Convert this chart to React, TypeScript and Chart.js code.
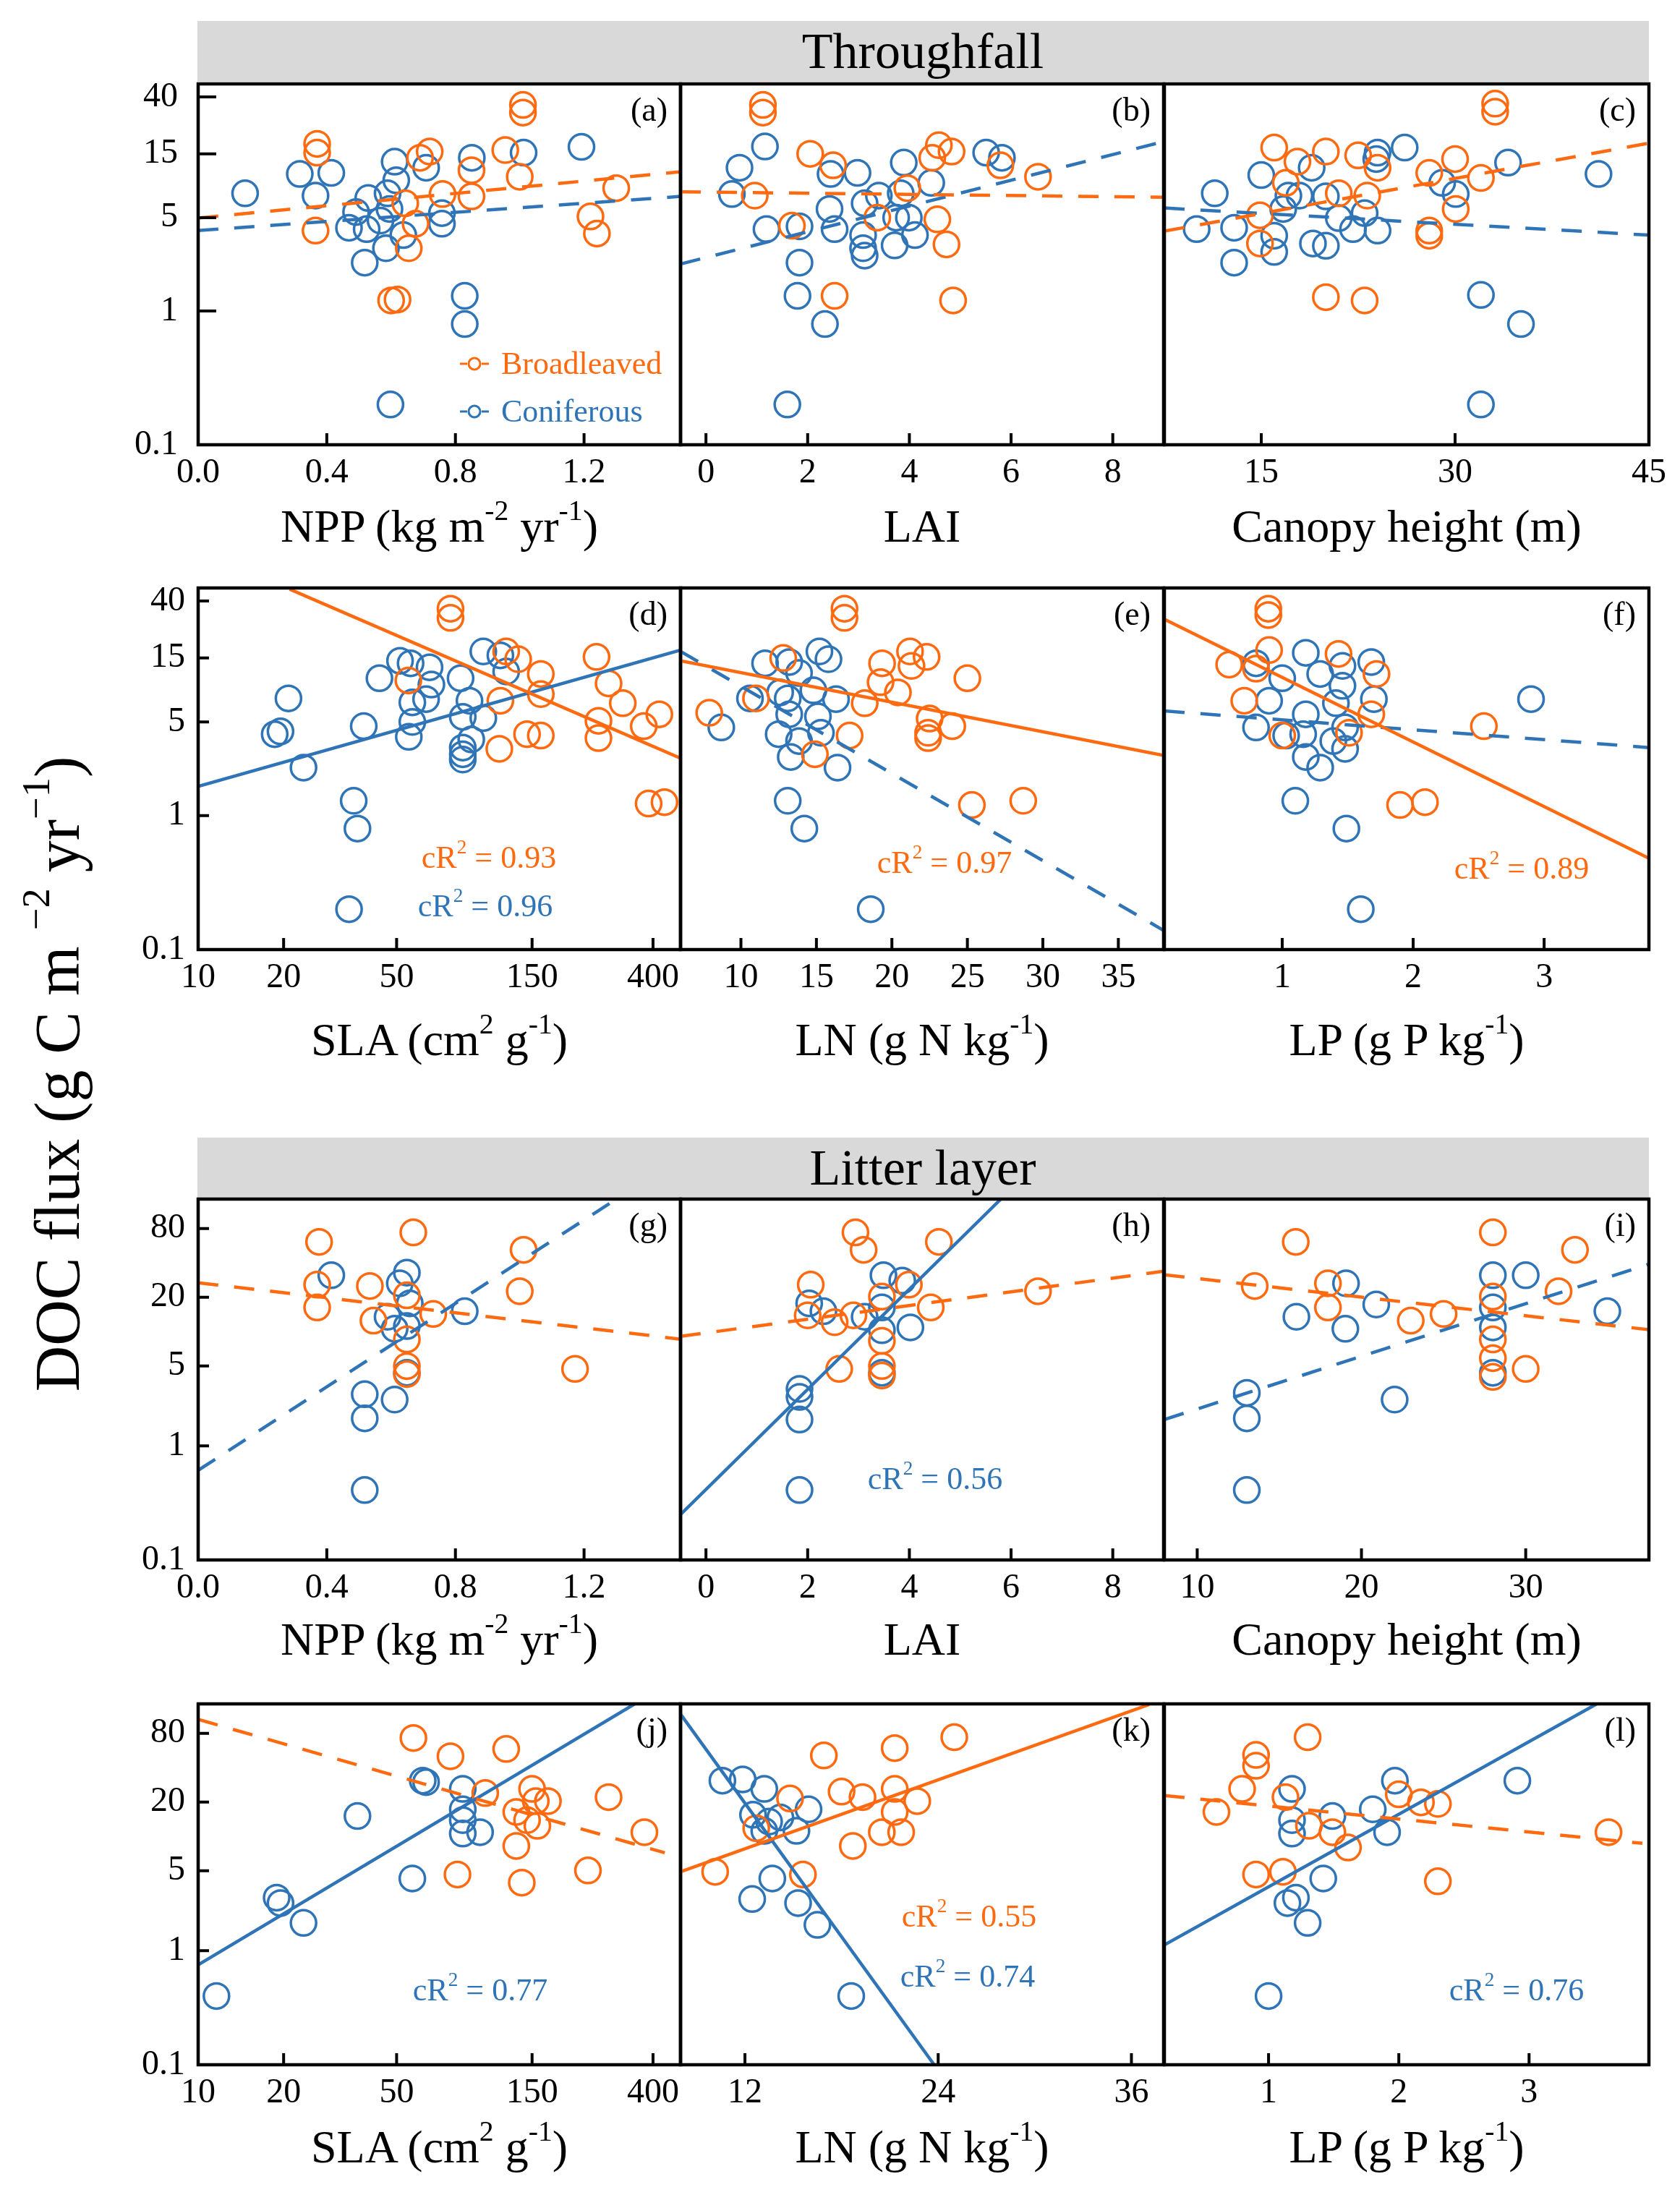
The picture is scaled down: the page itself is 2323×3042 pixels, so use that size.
import React, { useEffect, useRef } from 'react';
import { Chart, registerables } from 'chart.js';

Chart.register(...registerables);

const ORANGE = '#ff6a10';
const BLUE = '#2e74b6';
const FONT = '"Liberation Serif", "Times New Roman", serif';

// ---------- tick labels ----------
const yTicksTF = [0.1, 1, 5, 15, 40];
const yTicksLL = [0.1, 1, 5, 20, 80];
const nppTicks = [0, 0.4, 0.8, 1.2];
const laiTicks = [0, 2, 4, 6, 8];
const chTicksTF = [15, 30, 45];
const chTicksLL = [10, 20, 30];
const slaTicks = [10, 20, 50, 150, 400];
const lnTicksTF = [10, 15, 20, 25, 30, 35];
const lnTicksLL = [12, 24, 36];
const lpTicks = [1, 2, 3];

// ---------- (a) NPP, throughfall ----------
const aBroadX = [1.01, 1.01, 0.37, 0.37, 0.72, 0.69, 0.955, 0.85, 1.0, 0.76, 0.85, 1.3, 1.22, 1.24, 0.365, 0.655, 0.676, 0.6, 0.62, 0.644];
const aBroadY = [34.8, 30.5, 17.8, 15.3, 15.6, 14, 16, 11.3, 10.1, 7.5, 7.2, 8.3, 5.1, 3.8, 4.0, 2.95, 4.5, 1.2, 1.22, 6.4];
const aConX = [0.146, 0.316, 0.414, 0.365, 0.611, 0.616, 0.709, 0.851, 1.012, 1.192, 0.529, 0.589, 0.595, 0.491, 0.469, 0.524, 0.638, 0.584, 0.518, 0.758, 0.758, 0.829, 0.829, 0.598, 0.567];
const aConY = [7.6, 10.6, 10.8, 7.3, 13.1, 9.5, 11.8, 14, 15.3, 16.9, 7.0, 7.6, 5.8, 5.5, 4.2, 4.1, 3.7, 2.95, 2.3, 5.4, 4.5, 1.3, 0.8, 0.2, 4.75];
const aFitBX = [0, 1.5];
const aFitBY = [4.96, 11.0];
const aFitCX = [0, 1.5];
const aFitCY = [4.0, 7.2];

// ---------- (b) LAI, throughfall ----------
const bBroadX = [1.12, 1.12, 2.05, 0.96, 1.69, 2.53, 4.58, 4.83, 4.45, 5.79, 6.53, 4.55, 4.73, 4.86, 3.96, 2.5, 3.37];
const bBroadY = [34.8, 30.5, 15, 7.3, 4.35, 1.3, 17.4, 15.6, 14, 12.3, 10.1, 4.85, 3.15, 1.2, 8.3, 12.3, 5];
const bConX = [1.16, 0.66, 0.51, 1.19, 1.84, 1.84, 1.8, 2.34, 1.6, 2.45, 2.98, 2.43, 2.53, 3.09, 3.09, 3.12, 3.4, 3.12, 3.89, 3.83, 3.99, 4.11, 3.71, 4.43, 5.51, 5.82, 3.74];
const bConY = [17, 11.8, 7.5, 4.1, 4.3, 2.3, 1.3, 0.8, 0.2, 10.6, 10.8, 5.8, 4.1, 3.7, 2.95, 2.6, 7.3, 6.4, 12.9, 7.6, 5.0, 3.7, 3.1, 9.1, 15.3, 14, 5];
const bFitBX = [-0.5, 9];
const bFitBY = [7.8, 7.1];
const bFitCX = [-0.5, 9];
const bFitCY = [2.25, 18.5];

// ---------- (c) Canopy height, throughfall ----------
const cBroadX = [33.1, 33.1, 16, 20, 22.5, 17.8, 24, 30, 28, 32, 23.2, 21, 16.9, 30.05, 28, 28, 14.9, 14.9, 20, 23];
const cBroadY = [35.6, 31, 16.7, 15.6, 14.6, 13.1, 11.8, 13.7, 10.8, 9.9, 7.3, 7.6, 9.1, 5.8, 4.0, 3.66, 5.2, 3.2, 1.27, 1.2];
const cConX = [10, 11.4, 12.9, 12.9, 15, 18.9, 17.1, 17.96, 20, 16, 16, 19, 20, 21, 22.1, 24, 23, 24, 23.9, 26.1, 29, 30.05, 34.1, 41.1, 32, 35.1, 32, 16.7];
const cConY = [4.1, 7.6, 4.2, 2.3, 10.4, 11.8, 7.3, 7.3, 7.2, 3.66, 2.77, 3.2, 3.08, 4.96, 4.1, 4.0, 5.4, 15.3, 13.7, 16.7, 9.1, 7.5, 12.9, 10.6, 1.32, 0.8, 0.2, 5.8];
const cFitBX = [7.5, 45];
const cFitBY = [3.96, 18];
const cFitCX = [7.5, 45];
const cFitCY = [5.9, 3.7];

// ---------- (d) SLA, throughfall ----------
const dBroadX = [77.4, 77.4, 121.6, 134, 161, 161, 116, 253, 279, 313, 421, 371, 257, 257, 161, 144, 115, 386, 439, 55];
const dBroadY = [35, 29.9, 16.8, 14.7, 11.4, 8.07, 7.2, 15.3, 9.7, 6.9, 5.7, 4.65, 5.1, 3.79, 3.96, 4.05, 3.15, 1.23, 1.26, 10.2];
const dConX = [20.8, 19.5, 18.6, 23.5, 38.3, 35.3, 36.4, 34, 43.5, 51.4, 56, 65.3, 66.3, 63.5, 56.8, 56.8, 55.2, 84, 90.3, 85.5, 101, 91.6, 85.5, 85.5, 85.5, 101, 116, 121.6];
const dConY = [7.5, 4.25, 4.05, 2.28, 4.65, 1.29, 0.8, 0.2, 10.6, 14.3, 13.7, 12.8, 9.5, 7.4, 7.0, 5.0, 3.87, 10.6, 7.2, 5.46, 5.34, 3.7, 3.22, 2.87, 2.62, 16.8, 15.7, 11.9];
const dFitBX = [21, 500];
const dFitBY = [49, 2.68];
const dFitCX = [10, 500];
const dFitCY = [1.65, 17.2];

// ---------- (e) LN, throughfall ----------
const eBroadX = [16.86, 16.86, 7.9, 11, 12.8, 17.2, 14.9, 18.2, 19.35, 19.25, 20.4, 21.2, 21.3, 22.3, 25, 22.5, 22.4, 22.4, 24, 25.3, 28.7];
const eBroadY = [35, 29.9, 5.85, 7.5, 15, 3.96, 2.87, 6.9, 13.7, 9.9, 8.3, 16.8, 13.1, 15.3, 10.6, 5.3, 4.15, 3.79, 4.65, 1.2, 1.29];
const eConX = [10.6, 8.7, 11.6, 13.2, 15.2, 15.8, 13.85, 13.1, 14.8, 16.3, 13.2, 15.1, 12.5, 13.85, 13.3, 15.3, 16.4, 13.1, 14.2, 18.6, 12.6];
const eConY = [7.5, 4.55, 13.7, 14, 16.8, 14.7, 11.6, 7.5, 8.6, 7.4, 5.7, 5.5, 4.05, 3.6, 2.74, 4.15, 2.28, 1.29, 0.8, 0.2, 8.3];
const eFitBX = [6, 38];
const eFitBY = [14.3, 2.81];
const eFitCX = [6, 38];
const eFitCY = [16.8, 0.139];

// ---------- (f) LP, throughfall ----------
const fBroadX = [0.894, 0.894, 0.9, 0.595, 0.8, 0.71, 1.43, 1.72, 1.68, 1.0, 2.54, 1.9, 2.09, 1.51];
const fBroadY = [35, 31.4, 17.2, 13.4, 12.5, 7.2, 16.1, 11.4, 5.7, 3.96, 4.65, 1.2, 1.26, 4.15];
const fConX = [0.8, 1.0, 1.18, 1.29, 1.46, 1.68, 1.46, 1.7, 0.9, 1.18, 1.41, 0.8, 1.03, 1.16, 1.39, 1.48, 1.18, 1.29, 2.9, 1.1, 1.49, 1.6, 1.48];
const fConY = [13.7, 10.6, 16.4, 11.4, 13.1, 14, 9.3, 7.4, 7.2, 5.7, 6.9, 4.55, 3.96, 4.05, 3.6, 3.15, 2.74, 2.28, 7.4, 1.29, 0.8, 0.2, 4.55];
const fFitBX = [0.1, 3.8];
const fFitBY = [29.2, 0.48];
const fFitCX = [0.1, 3.8];
const fFitCY = [6.04, 3.22];

// ---------- (g) NPP, litter ----------
const gBroadX = [0.376, 0.669, 0.37, 0.37, 0.534, 1.012, 1.0, 0.731, 0.545, 0.649, 0.649, 0.649, 1.172, 0.649];
const gBroadY = [61.2, 74, 25.8, 16.3, 25.1, 52.1, 22.6, 14.3, 12.5, 8.55, 4.99, 4.25, 4.72, 20.8];
const gConX = [0.414, 0.649, 0.627, 0.658, 0.589, 0.649, 0.611, 0.829, 0.649, 0.518, 0.611, 0.518, 0.518];
const gConY = [31.2, 32.9, 26.5, 17.7, 13.5, 11.2, 10.6, 15.1, 4.36, 2.83, 2.54, 1.74, 0.41];
const gFitBX = [0, 1.5];
const gFitBY = [26.8, 8.6];
const gFitCX = [0, 1.3];
const gFitCY = [0.61, 145];

// ---------- (h) LAI, litter ----------
const hBroadX = [2.94, 3.1, 4.58, 2.06, 3.99, 2.0, 2.53, 3.46, 4.42, 6.53, 3.46, 3.46, 3.46, 2.62, 2.9];
const hBroadY = [74, 52.1, 61.2, 25.8, 25.8, 13.9, 12.1, 20.3, 16.3, 22.6, 8.3, 5.0, 4.13, 4.72, 13.9];
const hConX = [3.49, 3.86, 2.03, 2.31, 3.12, 3.46, 3.46, 4.02, 3.46, 1.84, 1.84, 1.84, 1.84];
const hConY = [31.2, 28, 17.7, 15.1, 13.5, 16.3, 10.3, 10.9, 4.36, 3.15, 2.68, 1.7, 0.41];
const hFitBX = [-0.5, 9];
const hFitBY = [9.1, 33.8];
const hFitCX = [-0.5, 5.8];
const hFitCY = [0.25, 145];

// ---------- (i) Canopy height, litter ----------
const iBroadX = [16, 28, 33, 13.5, 17.96, 17.96, 23, 25, 28, 28, 28, 32, 30, 28];
const iBroadY = [61.2, 74, 52.1, 25.1, 26.5, 16.3, 12.5, 14.3, 20.3, 8.55, 4.02, 22.6, 4.72, 5.86];
const iConX = [16.04, 19.06, 19.02, 20.9, 28, 30, 28, 28, 28, 34.97, 13.02, 13.02, 22.02, 13.02];
const iConY = [13.5, 26.5, 10.6, 17.3, 31.2, 31.2, 16.3, 10.9, 4.36, 15.1, 2.91, 1.74, 2.54, 0.41];
const iFitBX = [8, 37.5];
const iFitBY = [31.5, 10.4];
const iFitCX = [8, 37.5];
const iFitCY = [1.7, 39];

// ---------- (j) SLA, litter ----------
const jBroadX = [57.3, 77.4, 121.6, 102.6, 150, 170.6, 132, 144, 156.6, 132, 279, 373, 236, 81.9, 138, 154.6];
const jBroadY = [72.8, 50.4, 58.4, 24, 26.1, 20.4, 16.4, 13.9, 12.4, 8.26, 22.1, 10.9, 5.04, 4.64, 3.94, 20.4];
const jConX = [61.8, 63.5, 85.5, 85.5, 85.5, 85.5, 98.4, 36.4, 56.8, 18.9, 19.5, 23.5, 11.6];
const jConY = [30.8, 29.9, 26.1, 17.3, 13.9, 10.6, 10.9, 15.1, 4.28, 2.91, 2.61, 1.75, 0.4];
const jFitBX = [10, 440];
const jFitBY = [106, 7.2];
const jFitCX = [10, 345];
const jFitCY = [0.75, 145];

// ---------- (k) LN, litter ----------
const kBroadX = [25.0, 21.3, 16.9, 18, 19.3, 21.3, 22.7, 21.3, 20.5, 21.7, 18.7, 14.8, 10.15, 15.6, 12.7];
const kBroadY = [74, 59.4, 51.2, 24.7, 22.1, 26.1, 20.4, 16.4, 10.9, 10.9, 8.26, 21.5, 4.9, 4.64, 11.8];
const kConX = [10.6, 11.86, 13.2, 12.5, 13.5, 14.2, 15.95, 15.2, 13.2, 13.7, 12.45, 15.3, 16.5, 18.6];
const kConY = [30.8, 31.6, 26.1, 15.5, 13.5, 14.7, 17.3, 11.2, 11.2, 4.28, 2.83, 2.61, 1.68, 0.4];
const kFitBX = [8, 37.1];
const kFitBY = [4.9, 143];
const kFitCX = [8, 23.75];
const kFitCY = [118, 0.1];

// ---------- (l) LP, litter ----------
const lBroadX = [0.904, 0.904, 1.3, 0.797, 0.6, 1.13, 1.31, 1.49, 1.61, 0.904, 1.11, 2.0, 2.17, 2.3, 2.3, 3.61];
const lBroadY = [51.8, 41.6, 74, 26.1, 16.4, 22.1, 12.4, 10.9, 8.0, 4.64, 4.9, 23.4, 19.9, 19.3, 4.05, 10.9];
const lConX = [1.18, 1.18, 1.18, 1.49, 1.8, 1.97, 1.91, 2.91, 1.42, 1.21, 1.145, 1.3, 1.0];
const lConY = [26.1, 13.9, 10.6, 15.1, 17.3, 30.8, 10.9, 30.8, 4.28, 2.91, 2.61, 1.75, 0.4];
const lFitBX = [0.2, 3.87];
const lFitBY = [22.8, 8.7];
const lFitCX = [0.2, 3.52];
const lFitCY = [1.12, 145];

// ---------- layout (pixels) ----------
const COL_L = [274, 941, 1610];
const COL_R = [941, 1609, 2280];
const ROW_T = [116, 813, 1658, 2356];
const ROW_B = [615, 1313, 2157, 2855];
const PL = 130, PR = 45, PT = 75, PB = 90;

type Fit = { x: number[]; y: number[]; color: string; dash: boolean };
type Panel = {
  label: string; row: number; col: number;
  xType: 'linear' | 'logarithmic'; xMin: number; xMax: number; xTicks: number[]; xDec: number;
  yMax: number; yTicks: number[];
  bx: number[]; by: number[]; cx: number[]; cy: number[];
  fits: Fit[];
};

const PANELS: Panel[] = [
  { label: '(a)', row: 0, col: 0, xType: 'linear', xMin: 0, xMax: 1.5, xTicks: nppTicks, xDec: 1, yMax: 50, yTicks: yTicksTF,
    bx: aBroadX, by: aBroadY, cx: aConX, cy: aConY,
    fits: [{ x: aFitBX, y: aFitBY, color: ORANGE, dash: true }, { x: aFitCX, y: aFitCY, color: BLUE, dash: true }] },
  { label: '(b)', row: 0, col: 1, xType: 'linear', xMin: -0.5, xMax: 9, xTicks: laiTicks, xDec: 0, yMax: 50, yTicks: yTicksTF,
    bx: bBroadX, by: bBroadY, cx: bConX, cy: bConY,
    fits: [{ x: bFitBX, y: bFitBY, color: ORANGE, dash: true }, { x: bFitCX, y: bFitCY, color: BLUE, dash: true }] },
  { label: '(c)', row: 0, col: 2, xType: 'linear', xMin: 7.5, xMax: 45, xTicks: chTicksTF, xDec: 0, yMax: 50, yTicks: yTicksTF,
    bx: cBroadX, by: cBroadY, cx: cConX, cy: cConY,
    fits: [{ x: cFitBX, y: cFitBY, color: ORANGE, dash: true }, { x: cFitCX, y: cFitCY, color: BLUE, dash: true }] },
  { label: '(d)', row: 1, col: 0, xType: 'logarithmic', xMin: 10, xMax: 500, xTicks: slaTicks, xDec: 0, yMax: 50, yTicks: yTicksTF,
    bx: dBroadX, by: dBroadY, cx: dConX, cy: dConY,
    fits: [{ x: dFitBX, y: dFitBY, color: ORANGE, dash: false }, { x: dFitCX, y: dFitCY, color: BLUE, dash: false }] },
  { label: '(e)', row: 1, col: 1, xType: 'linear', xMin: 6, xMax: 38, xTicks: lnTicksTF, xDec: 0, yMax: 50, yTicks: yTicksTF,
    bx: eBroadX, by: eBroadY, cx: eConX, cy: eConY,
    fits: [{ x: eFitBX, y: eFitBY, color: ORANGE, dash: false }, { x: eFitCX, y: eFitCY, color: BLUE, dash: true }] },
  { label: '(f)', row: 1, col: 2, xType: 'linear', xMin: 0.1, xMax: 3.8, xTicks: lpTicks, xDec: 0, yMax: 50, yTicks: yTicksTF,
    bx: fBroadX, by: fBroadY, cx: fConX, cy: fConY,
    fits: [{ x: fFitBX, y: fFitBY, color: ORANGE, dash: false }, { x: fFitCX, y: fFitCY, color: BLUE, dash: true }] },
  { label: '(g)', row: 2, col: 0, xType: 'linear', xMin: 0, xMax: 1.5, xTicks: nppTicks, xDec: 1, yMax: 145, yTicks: yTicksLL,
    bx: gBroadX, by: gBroadY, cx: gConX, cy: gConY,
    fits: [{ x: gFitBX, y: gFitBY, color: ORANGE, dash: true }, { x: gFitCX, y: gFitCY, color: BLUE, dash: true }] },
  { label: '(h)', row: 2, col: 1, xType: 'linear', xMin: -0.5, xMax: 9, xTicks: laiTicks, xDec: 0, yMax: 145, yTicks: yTicksLL,
    bx: hBroadX, by: hBroadY, cx: hConX, cy: hConY,
    fits: [{ x: hFitBX, y: hFitBY, color: ORANGE, dash: true }, { x: hFitCX, y: hFitCY, color: BLUE, dash: false }] },
  { label: '(i)', row: 2, col: 2, xType: 'linear', xMin: 8, xMax: 37.5, xTicks: chTicksLL, xDec: 0, yMax: 145, yTicks: yTicksLL,
    bx: iBroadX, by: iBroadY, cx: iConX, cy: iConY,
    fits: [{ x: iFitBX, y: iFitBY, color: ORANGE, dash: true }, { x: iFitCX, y: iFitCY, color: BLUE, dash: true }] },
  { label: '(j)', row: 3, col: 0, xType: 'logarithmic', xMin: 10, xMax: 500, xTicks: slaTicks, xDec: 0, yMax: 145, yTicks: yTicksLL,
    bx: jBroadX, by: jBroadY, cx: jConX, cy: jConY,
    fits: [{ x: jFitBX, y: jFitBY, color: ORANGE, dash: true }, { x: jFitCX, y: jFitCY, color: BLUE, dash: false }] },
  { label: '(k)', row: 3, col: 1, xType: 'linear', xMin: 8, xMax: 38, xTicks: lnTicksLL, xDec: 0, yMax: 145, yTicks: yTicksLL,
    bx: kBroadX, by: kBroadY, cx: kConX, cy: kConY,
    fits: [{ x: kFitBX, y: kFitBY, color: ORANGE, dash: false }, { x: kFitCX, y: kFitCY, color: BLUE, dash: false }] },
  { label: '(l)', row: 3, col: 2, xType: 'linear', xMin: 0.2, xMax: 3.92, xTicks: lpTicks, xDec: 0, yMax: 145, yTicks: yTicksLL,
    bx: lBroadX, by: lBroadY, cx: lConX, cy: lConY,
    fits: [{ x: lFitBX, y: lFitBY, color: ORANGE, dash: true }, { x: lFitCX, y: lFitCY, color: BLUE, dash: false }] },
];

const framePlugin = {
  id: 'frame',
  afterDatasetsDraw(chart: any, _args: any, opts: any) {
    const { ctx, chartArea: a, scales } = chart;
    ctx.save();
    ctx.strokeStyle = '#000';
    ctx.lineWidth = 4;
    ctx.lineCap = 'butt';
    ctx.beginPath();
    for (const t of scales.x.ticks) {
      const px = scales.x.getPixelForValue(t.value);
      if (px > a.left + 4 && px < a.right - 4) {
        ctx.moveTo(px, a.bottom);
        ctx.lineTo(px, a.bottom - 16);
      }
    }
    if (opts.yTicks) {
      for (const t of scales.y.ticks) {
        const py = scales.y.getPixelForValue(t.value);
        if (py > a.top + 4 && py < a.bottom - 4) {
          ctx.moveTo(a.left, py);
          ctx.lineTo(a.left + opts.yLen, py);
        }
      }
    }
    ctx.stroke();
    ctx.lineWidth = 4.5;
    ctx.strokeRect(a.left, a.top, a.right - a.left, a.bottom - a.top);
    ctx.restore();
  },
};

function PanelChart({ p }: { p: Panel }) {
  const ref = useRef<HTMLCanvasElement>(null);
  const left = COL_L[p.col], right = COL_R[p.col], top = ROW_T[p.row], bottom = ROW_B[p.row];
  const w = right - left + PL + PR;
  const h = bottom - top + PT + PB;
  useEffect(() => {
    if (!ref.current) return;
    const pts = (xs: number[], ys: number[]) => xs.map((x, i) => ({ x, y: ys[i] }));
    const fitSets = p.fits.map((f) => ({
      data: pts(f.x, f.y),
      showLine: true,
      borderColor: f.color,
      borderWidth: 4.5,
      borderDash: f.dash ? [28, 22] : [],
      borderCapStyle: 'butt',
      pointRadius: 0,
      pointHoverRadius: 0,
      fill: false,
      tension: 0,
    }));
    const scatter = (xs: number[], ys: number[], color: string) => ({
      data: pts(xs, ys),
      showLine: false,
      pointStyle: 'circle',
      pointRadius: 17.5,
      pointHoverRadius: 17.5,
      pointBorderWidth: 3.5,
      pointBorderColor: color,
      pointBackgroundColor: 'rgba(255,255,255,0)',
      borderColor: color,
      backgroundColor: 'rgba(255,255,255,0)',
    });
    const chart = new Chart(ref.current, {
      type: 'scatter',
      data: {
        datasets: [...fitSets, scatter(p.bx, p.by, ORANGE), scatter(p.cx, p.cy, BLUE)] as any,
      },
      plugins: [framePlugin as any],
      options: {
        responsive: false,
        animation: false,
        devicePixelRatio: 1,
        events: [],
        layout: { autoPadding: false, padding: { left: 0, right: PR, top: PT, bottom: 0 } },
        plugins: {
          legend: { display: false },
          tooltip: { enabled: false },
          frame: { yTicks: p.col === 0, yLen: p.row === 0 ? 25 : 15 },
        } as any,
        scales: {
          x: {
            type: p.xType,
            min: p.xMin,
            max: p.xMax,
            grid: { display: false, drawTicks: false },
            border: { display: false },
            afterBuildTicks: (s: any) => { s.ticks = p.xTicks.map((v) => ({ value: v })); },
            afterFit: (s: any) => { s.height = PB; },
            ticks: {
              autoSkip: false,
              maxRotation: 0,
              minRotation: 0,
              padding: 11,
              color: '#000',
              font: { family: FONT, size: 48 },
              callback: (v: any) => Number(v).toFixed(p.xDec),
            },
          },
          y: {
            type: 'logarithmic',
            min: 0.1,
            max: p.yMax,
            grid: { display: false, drawTicks: false },
            border: { display: false },
            afterBuildTicks: (s: any) => { s.ticks = p.yTicks.map((v) => ({ value: v })); },
            afterFit: (s: any) => { s.width = PL; },
            ticks: {
              display: p.col === 0,
              autoSkip: false,
              padding: p.row === 0 ? 28 : 18,
              color: '#000',
              font: { family: FONT, size: 48 },
              callback: (v: any) => String(Number(v)),
            },
          },
        } as any,
      },
    });
    return () => chart.destroy();
  }, []);
  return (
    <canvas
      ref={ref}
      width={w}
      height={h}
      style={{ position: 'absolute', left: left - PL, top: top - PT, width: w, height: h }}
    />
  );
}

const Sup = ({ children }: { children: any }) => (
  <span style={{ fontSize: '0.62em', position: 'relative', top: '-0.75em' }}>{children}</span>
);

const abs = (x: number, y: number, extra: any = {}) => ({
  position: 'absolute' as const,
  left: x,
  top: y,
  transform: 'translate(-50%, -50%)',
  whiteSpace: 'nowrap' as const,
  fontFamily: FONT,
  lineHeight: 1,
  ...extra,
});

const titleNPP = <>NPP (kg m<Sup>-2</Sup> yr<Sup>-1</Sup>)</>;
const titleLAI = <>LAI</>;
const titleCH = <>Canopy height (m)</>;
const titleSLA = <>SLA (cm<Sup>2</Sup> g<Sup>-1</Sup>)</>;
const titleLN = <>LN (g N kg<Sup>-1</Sup>)</>;
const titleLP = <>LP (g P kg<Sup>-1</Sup>)</>;

const TITLE_Y = [728, 1438, 2267, 2969];
const TITLES = [
  [titleNPP, titleLAI, titleCH],
  [titleSLA, titleLN, titleLP],
  [titleNPP, titleLAI, titleCH],
  [titleSLA, titleLN, titleLP],
];

const NOTES: { x: number; y: number; color: string; r2: string }[] = [
  { x: 676, y: 1186, color: ORANGE, r2: '0.93' },
  { x: 671, y: 1253, color: BLUE, r2: '0.96' },
  { x: 1306, y: 1193, color: ORANGE, r2: '0.97' },
  { x: 2104, y: 1201, color: ORANGE, r2: '0.89' },
  { x: 1293, y: 2045, color: BLUE, r2: '0.56' },
  { x: 664, y: 2752, color: BLUE, r2: '0.77' },
  { x: 1340, y: 2650, color: ORANGE, r2: '0.55' },
  { x: 1338, y: 2733, color: BLUE, r2: '0.74' },
  { x: 2097, y: 2752, color: BLUE, r2: '0.76' },
];

function LegendMark({ x, y, color }: { x: number; y: number; color: string }) {
  return (
    <svg style={{ position: 'absolute', left: x - 20, top: y - 12 }} width={40} height={24}>
      <line x1={0} y1={12} x2={10} y2={12} stroke={color} strokeWidth={3} />
      <circle cx={20} cy={12} r={8} fill="none" stroke={color} strokeWidth={3} />
      <line x1={30} y1={12} x2={40} y2={12} stroke={color} strokeWidth={3} />
    </svg>
  );
}

export default function App() {
  return (
    <div style={{ position: 'absolute', left: 0, top: 0, width: 2323, height: 3042, background: '#fff', overflow: 'hidden' }}>
      {/* header bars */}
      <div style={{ position: 'absolute', left: 273, top: 29, width: 2007, height: 84, background: '#d9d9d9' }} />
      <div style={abs(1276, 71, { fontSize: 70, color: '#000' })}>Throughfall</div>
      <div style={{ position: 'absolute', left: 273, top: 1573, width: 2007, height: 84, background: '#d9d9d9' }} />
      <div style={abs(1276, 1615, { fontSize: 70, color: '#000' })}>Litter layer</div>

      {PANELS.map((p) => <PanelChart key={p.label} p={p} />)}

      {/* panel labels */}
      {PANELS.map((p) => (
        <div
          key={'lab' + p.label}
          style={abs(COL_R[p.col] - 18, ROW_T[p.row] + 36, { fontSize: 46, color: '#000', transform: 'translate(-100%, -50%)' })}
        >
          {p.label}
        </div>
      ))}

      {/* axis titles */}
      {TITLES.map((row, r) =>
        row.map((t, c) => (
          <div key={'t' + r + c} style={abs((COL_L[c] + COL_R[c]) / 2, TITLE_Y[r], { fontSize: 64, color: '#000' })}>
            {t}
          </div>
        ))
      )}

      {/* y-axis title */}
      <div style={abs(80, 1485, { fontSize: 88, color: '#000', transform: 'translate(-50%, -50%) rotate(-90deg)' })}>
        DOC flux (g C m <Sup>−2</Sup> yr<Sup>−1</Sup>)
      </div>

      {/* cR2 annotations */}
      {NOTES.map((n, i) => (
        <div key={'n' + i} style={abs(n.x, n.y, { fontSize: 44, color: n.color })}>
          cR<Sup>2</Sup> = {n.r2}
        </div>
      ))}

      {/* legend in (a) */}
      <LegendMark x={656} y={503} color={ORANGE} />
      <div style={{ position: 'absolute', left: 693, top: 503, transform: 'translateY(-50%)', fontFamily: FONT, fontSize: 44, lineHeight: 1, color: ORANGE, whiteSpace: 'nowrap' }}>
        Broadleaved
      </div>
      <LegendMark x={656} y={569} color={BLUE} />
      <div style={{ position: 'absolute', left: 693, top: 569, transform: 'translateY(-50%)', fontFamily: FONT, fontSize: 44, lineHeight: 1, color: BLUE, whiteSpace: 'nowrap' }}>
        Coniferous
      </div>
    </div>
  );
}
